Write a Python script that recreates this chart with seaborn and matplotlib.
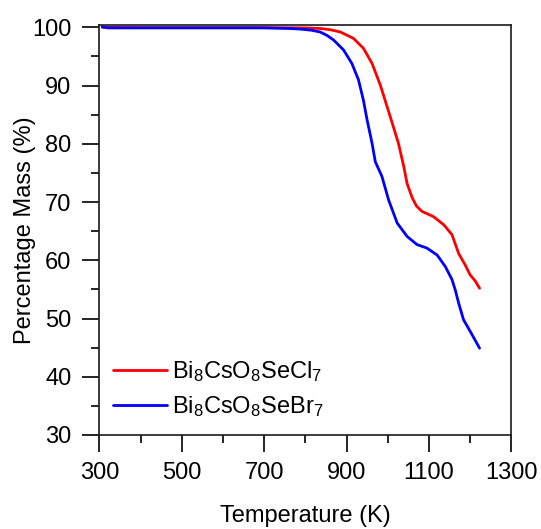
import matplotlib
matplotlib.use("Agg")
import matplotlib.pyplot as plt
import seaborn as sns
import pandas as pd
from matplotlib.ticker import MultipleLocator

# ---- data ----
temp_cl = [307, 400, 500, 600, 700, 800, 836, 860, 885, 917, 941, 962, 982, 1006, 1026,
           1039, 1047, 1059, 1070, 1083, 1111, 1136, 1156, 1172, 1188, 1200, 1212, 1223]
mass_cl = [100.0, 99.95, 99.95, 99.95, 99.95, 99.9, 99.8, 99.6, 99.2, 98.1, 96.4, 93.8, 90.1, 84.7, 80.1,
           76.1, 73.2, 70.8, 69.3, 68.4, 67.5, 66.1, 64.4, 61.2, 59.2, 57.5, 56.5, 55.2]

temp_br = [307, 320, 400, 500, 600, 700, 760, 788, 815, 836, 853, 869, 893, 913, 929, 941, 950, 962,
           970, 986, 1002, 1023, 1047, 1071, 1095, 1120, 1140, 1156, 1164, 1172, 1184, 1205, 1223]
mass_br = [100.1, 99.9, 99.9, 99.9, 99.9, 99.9, 99.8, 99.7, 99.5, 99.2, 98.6, 97.8, 96.1, 93.8, 91.0, 87.5, 84.1, 80.1,
           76.9, 74.4, 70.4, 66.4, 64.1, 62.7, 62.1, 60.9, 58.9, 56.7, 54.9, 52.7, 49.8, 47.2, 44.9]

label_cl = r'Bi$_8$CsO$_8$SeCl$_7$'
label_br = r'Bi$_8$CsO$_8$SeBr$_7$'
x_ticks = [300, 500, 700, 900, 1100, 1300]
y_ticks = [30, 40, 50, 60, 70, 80, 90, 100]

df = pd.concat([
    pd.DataFrame({'T': temp_cl, 'm': mass_cl, 's': label_cl}),
    pd.DataFrame({'T': temp_br, 'm': mass_br, 's': label_br}),
], ignore_index=True)

sns.set_style('ticks')
plt.rcParams['font.family'] = ['Liberation Sans', 'DejaVu Sans']
plt.rcParams['mathtext.fontset'] = 'custom'
plt.rcParams['mathtext.rm'] = 'Liberation Sans'
plt.rcParams['mathtext.it'] = 'Liberation Sans:italic'
plt.rcParams['mathtext.default'] = 'regular'
plt.rcParams['text.color'] = 'black'
plt.rcParams['axes.labelcolor'] = 'black'
plt.rcParams['xtick.color'] = 'black'
plt.rcParams['ytick.color'] = 'black'

fig = plt.figure(figsize=(5.41, 5.29), dpi=100)
ax = fig.add_axes([99.3/541, 1-435/529, 412/541, (435-24.7)/529])

sns.lineplot(data=df, x='T', y='m', hue='s', palette={label_cl: '#ff0000', label_br: '#0000ff'},
             sort=False, linewidth=2.0, ax=ax, legend=True)

ax.set_xlim(300, 1300)
ax.set_ylim(30, 100.45)
ax.set_xticks(x_ticks)
ax.set_yticks(y_ticks)
ax.xaxis.set_minor_locator(MultipleLocator(100))
ax.yaxis.set_minor_locator(MultipleLocator(5))
ax.tick_params(which='major', direction='out', length=12, width=1.2, labelsize=17, color='black')
ax.tick_params(which='minor', direction='out', length=6, width=1.2, color='black')
ax.tick_params(axis='x', which='major', pad=7.5)
ax.tick_params(axis='y', which='major', pad=8)
for sp in ax.spines.values():
    sp.set_visible(True)
    sp.set_linewidth(1.2)
    sp.set_color('#1a1a1a')

ax.set_xlabel('Temperature (K)', fontsize=17)
ax.set_ylabel('Percentage Mass (%)', fontsize=17)
ax.xaxis.set_label_coords(0.5, -0.17)
ax.yaxis.set_label_coords(-0.154, 0.5)

leg = ax.legend(loc='center left', bbox_to_anchor=(0.033, 0.112), frameon=False,
                fontsize=17, handlelength=2.29, handletextpad=0.21, labelspacing=0.45,
                borderpad=0, borderaxespad=0)
for line in leg.get_lines():
    line.set_linewidth(2.0)

fig.savefig('out.png', dpi=100)
